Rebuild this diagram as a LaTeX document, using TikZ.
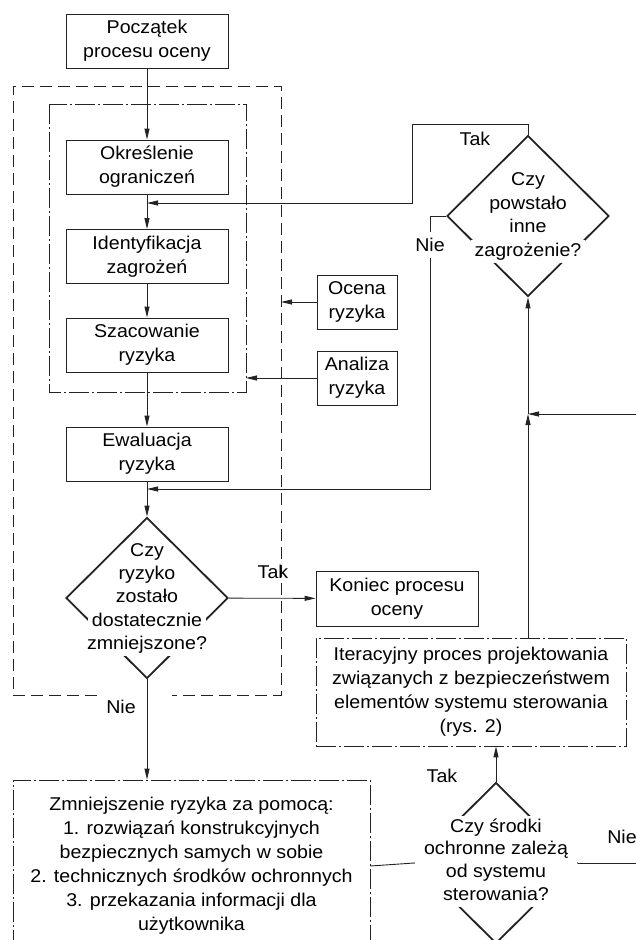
\documentclass[tikz,border=0pt]{standalone}
\usepackage{fontspec}
\setmainfont{Liberation Sans}[FakeStretch=1.06]
\usetikzlibrary{arrows.meta, calc, shapes.geometric}
\definecolor{ink}{RGB}{35, 35, 35}
\tikzset{
    box/.style={rectangle, draw=ink, line width=0.9pt, align=center, inner sep=0pt, minimum width=162pt, minimum height=54pt},
    smallbox/.style={box, minimum width=80pt},
    dotbox/.style={rectangle, draw=ink, line width=0.8pt, dash pattern=on 20pt off 3pt on 2pt off 3pt, align=center, inner sep=0pt},
    decision/.style={diamond, draw=ink, line width=1.8pt, inner sep=0pt, minimum width=162pt, minimum height=161pt},
    dtext/.style={fill=white, inner xsep=4pt, inner ysep=3pt, text height=13.5pt, text depth=4pt},
    lbl/.style={inner sep=1pt},
    outer/.style={draw=ink, line width=1pt, dash pattern=on 12pt off 6pt},
    dashdot/.style={draw=ink, line width=0.8pt, dash pattern=on 20pt off 3pt on 2pt off 3pt},
    arr/.style={-{Triangle[length=11pt, width=5pt]}, line width=0.9pt, ink},
    conn/.style={line width=0.9pt, ink}
}

\begin{document}
\begin{tikzpicture}[x=1pt, y=-1pt, font=\fontsize{18.5}{24}\selectfont]
    \useasboundingbox (0,0) rectangle (636,940);
    \coordinate (oNW) at (13,86);
    \coordinate (oSE) at (281,695);
    \coordinate (iSE) at (246,392);
    \draw[outer] (97,695) -| (oNW) -| (oSE) -- (172,695);
    \draw[dashdot] (49,104) rectangle (iSE);

    \node[box] (start) at (147,41) {Początek\\procesu oceny};
    \node[box] (b1) at (147,167) {Określenie\\ograniczeń};
    \node[box] (b2) at (147,256.5) {Identyfikacja\\zagrożeń};
    \node[box] (b3) at (147,345) {Szacowanie\\ryzyka};
    \node[box] (b4) at (147,454) {Ewaluacja\\ryzyka};
    \node[decision] (q1) at (147,598) {};
    \node[smallbox] (ocena) at (357,302) {Ocena\\ryzyka};
    \node[smallbox] (analiza) at (357,378) {Analiza\\ryzyka};
    \node[box, minimum height=55pt] (end) at (397,598.5) {Koniec procesu\\oceny};
    \node[decision] (q2) at (528,216) {};
    \node[dotbox, minimum width=310pt, minimum height=108pt] (iter) at (471,692) {Iteracyjny proces projektowania\\związanych z bezpieczeństwem\\elementów systemu sterowania\\(rys. 2)};
    \node[dotbox, minimum width=357pt, minimum height=172pt] (red) at (191.5,866) {Zmniejszenie ryzyka za pomocą:\\1. rozwiązań konstrukcyjnych\\bezpiecznych samych w sobie\\2. technicznych środków ochronnych\\3. przekazania informacji dla\\użytkownika};
    \node[decision] (q3) at (496,863) {};

    \coordinate (tk) at (412,124);
    \coordinate (m12) at (147,203);
    \coordinate (nk) at (430,489);
    \coordinate (m45) at (147,489);
    \coordinate (jn) at (528,414);
    \coordinate (re) at (636,414);
    \coordinate (re2) at (636,863);

    \draw[arr] (start) -- (b1);
    \draw[arr] (b1) -- (b2);
    \draw[arr] (b2) -- (b3);
    \draw[arr] (b3) -- (b4);
    \draw[arr] (b4) -- (q1);
    \draw[arr] (q1) -- (end);
    \draw[arr] (q1.south) -- (q1.south |- red.north);
    \draw[arr] (ocena) -- (ocena -| oSE);
    \draw[arr] (analiza) -- (analiza -| iSE);
    \draw[arr] (q2.north) |- (tk) |- (m12);
    \draw[arr] (q2.west) -| (nk) -- (m45);
    \draw[arr] (jn |- iter.north) -- (jn);
    \draw[arr] (jn) -- (q2.south);
    \draw[arr] (re) -- (jn);
    \draw[arr] (q3.north) -- (q3.north |- iter.south);
    \draw[conn] (red.east) -- (q3.west);
    \draw[conn] (q3.east) -- (re2);

    \foreach \t [count=\i] in {Czy,ryzyko,zostało,dostatecznie,zmniejszone?}
        \node[dtext] (q1t\i) at ($(q1)+(0,{(\i-3)*23.3})$) {\t};
    \foreach \t [count=\i] in {Czy,powstało,inne,zagrożenie?}
        \node[dtext] (q2t\i) at ($(q2)+(0,{(\i-2.5)*23.5})$) {\t};
    \foreach \t [count=\i] in {Czy środki,ochronne zależą,od systemu,sterowania?}
        \node[dtext, minimum width=162pt] (q3t\i) at ($(q3)+(0,{(\i-2.5)*22.7-1.5})$) {\t};

    \node[lbl] (tak1) at (273,572) {Tak};
    \node[lbl] (nie1) at (121,707) {Nie};
    \node[lbl] (tak2) at (475,139) {Tak};
    \node[lbl, fill=white, inner ysep=6pt] (nie2) at (430,245) {Nie};
    \node[lbl] (tak3) at (442,776) {Tak};
    \node[lbl] (nie3) at (622,837) {Nie};
\end{tikzpicture}
\end{document}
